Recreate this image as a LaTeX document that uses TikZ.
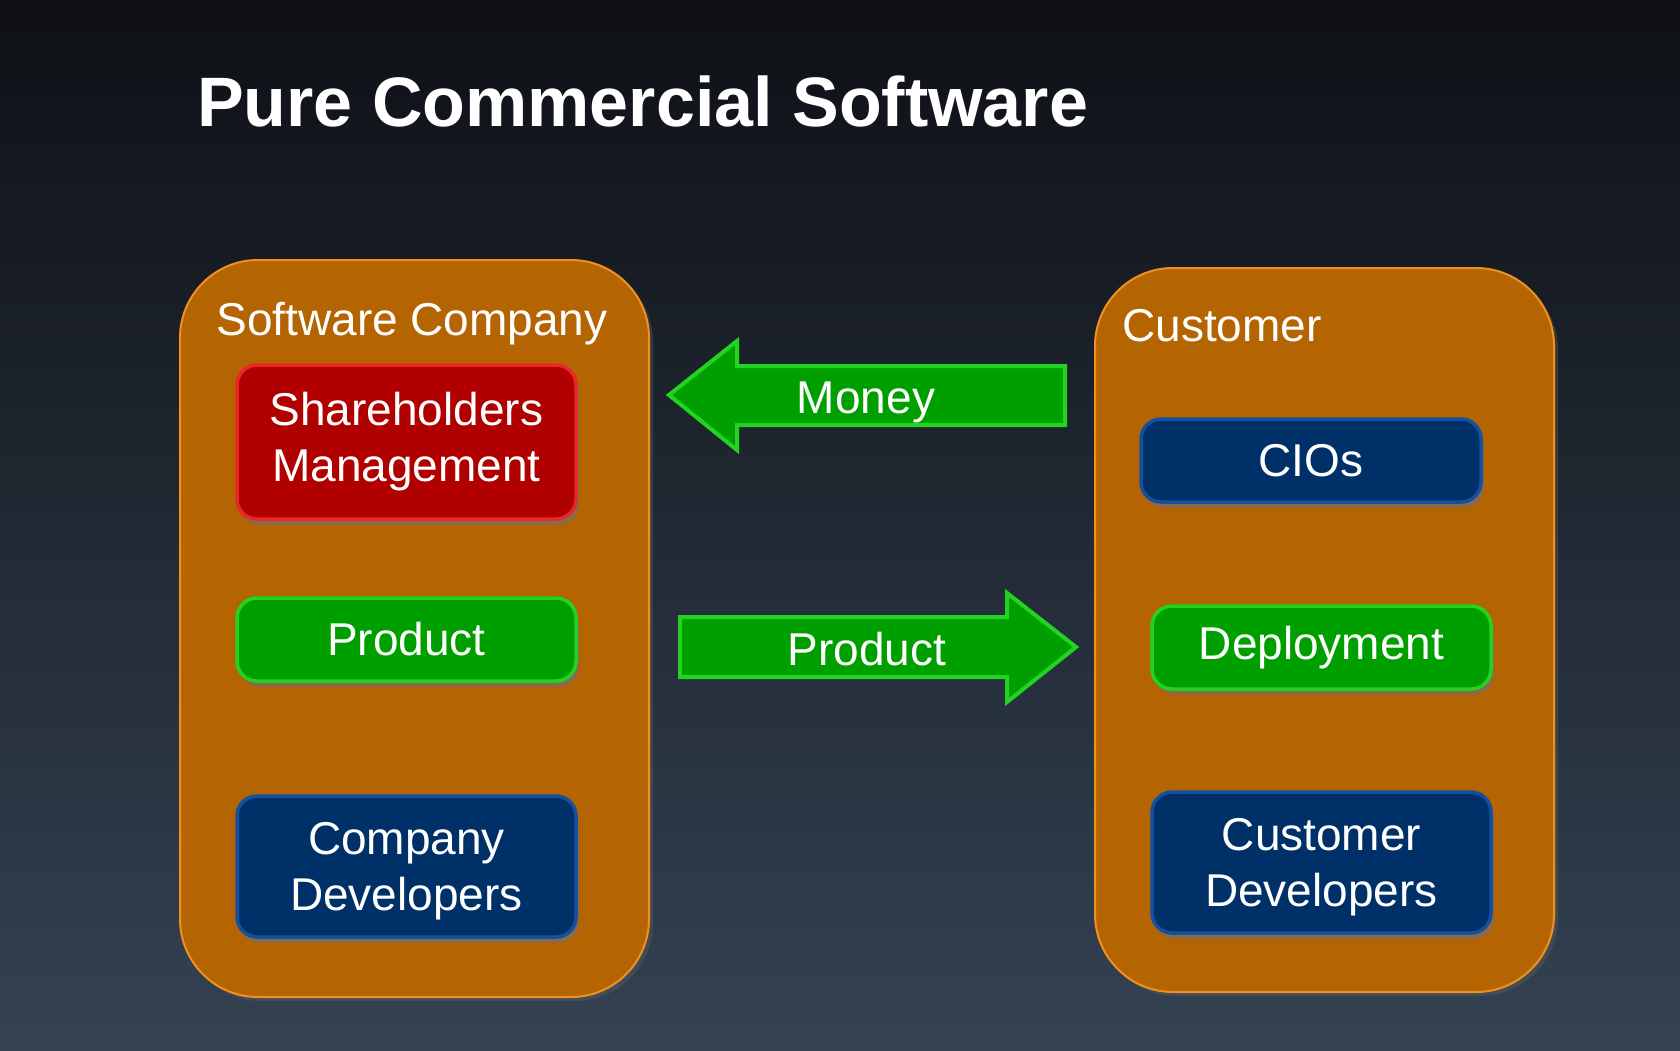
\documentclass[tikz,border=0pt]{standalone}
\usepackage{fontspec}
\setmainfont{Liberation Sans}
\definecolor{bgtop}{HTML}{0E1015}
\definecolor{bgbot}{HTML}{344252}
\definecolor{orfill}{HTML}{B46400}
\definecolor{ordraw}{HTML}{F0901E}
\definecolor{redfill}{HTML}{B00000}
\definecolor{reddraw}{HTML}{E82828}
\definecolor{grfill}{HTML}{009F00}
\definecolor{grdraw}{HTML}{22D322}
\definecolor{blfill}{HTML}{003068}
\definecolor{bldraw}{HTML}{1450A0}
\definecolor{shadowc}{HTML}{8C6A48}
\tikzset{
  container/.style={draw=ordraw, fill=orfill, line width=2pt, rounded corners=78pt},
  inner/.style={rounded corners=20pt, line width=3.5pt, inner sep=0pt, align=center,
     text=white, font=\fontsize{46}{56}\selectfont},
  shad/.style={fill=shadowc, rounded corners=20pt},
  blockarrow/.style={fill=grfill, draw=grdraw, line width=4pt, line join=miter},
  lbl/.style={text=white, inner sep=0pt, font=\fontsize{46}{56}\selectfont},
}
\begin{document}
\begin{tikzpicture}[x=1pt,y=-1pt]
\useasboundingbox (0,0) rectangle (1680,1050);
\shade[top color=bgtop, bottom color=bgbot] (0,0) rectangle (1680,1050);
% title
\node[anchor=base west, inner sep=0pt, text=white, font=\fontsize{70}{80}\selectfont\bfseries] (title) at (197,126) {Pure Commercial Software};
% containers
\fill[black!60, opacity=0.35, rounded corners=78pt] (183,264) rectangle (653,1001);
\fill[black!60, opacity=0.35, rounded corners=78pt] (1098,272) rectangle (1558,996);
\draw[container] (180,260) rectangle (649,997);
\draw[container] (1095,268) rectangle (1554,992);
\node[lbl, anchor=base] (swc) at (412,335) {Software Company};
\node[lbl, anchor=base west] (cust) at (1122,341) {Customer};
% shadows of inner boxes
\fill[shad] (240,371) rectangle (579,525);
\fill[shad] (240,604) rectangle (579,687);
\fill[shad] (240,802) rectangle (579,943);
\fill[shad] (1144,425) rectangle (1484,508);
\fill[shad] (1155,612) rectangle (1494,695);
\fill[shad] (1155,798) rectangle (1494,939);
% inner boxes
\node[inner, draw=reddraw, fill=redfill, minimum width=339pt, minimum height=154pt] (sh) at (406.5,442) {Shareholders\\Management};
\node[inner, draw=grdraw, fill=grfill, minimum width=339pt, minimum height=83pt] (prod) at (406.5,639.5) {Product};
\node[inner, draw=bldraw, fill=blfill, minimum width=339pt, minimum height=141pt] (cdev) at (406.5,866.5) {};
\node[lbl, align=center] (cdevt) at (406.5,871.5) {Company\\Developers};
\node[inner, draw=bldraw, fill=blfill, minimum width=340pt, minimum height=83pt] (cio) at (1311,460.5) {CIOs};
\node[inner, draw=grdraw, fill=grfill, minimum width=339pt, minimum height=83pt] (dep) at (1321.5,647.5) {Deployment};
\node[inner, draw=bldraw, fill=blfill, minimum width=339pt, minimum height=141pt] (udev) at (1321.5,862.5) {};
\node[lbl, align=center] (udevt) at (1321.5,867.5) {Customer\\Developers};
% block arrows
\draw[blockarrow] (669,395) -- (737,341) -- (737,366) -- (1065,366) -- (1065,425) -- (737,425) -- (737,450) -- cycle;
\node[lbl, anchor=base] (money) at (866,413) {Money};
\draw[blockarrow] (1076,647) -- (1007,593) -- (1007,617) -- (680,617) -- (680,677) -- (1007,677) -- (1007,702) -- cycle;
\node[lbl, anchor=base] (parrow) at (867,665) {Product};
\end{tikzpicture}
\end{document}
